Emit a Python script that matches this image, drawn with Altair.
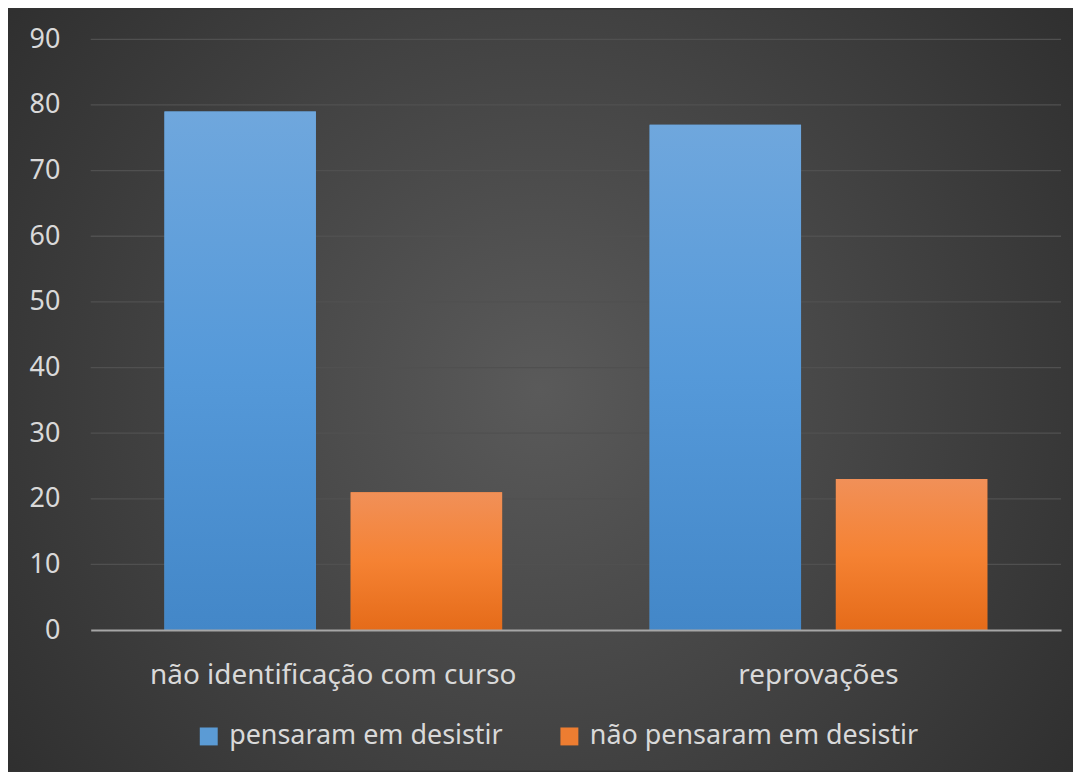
import altair as alt
import pandas as pd

categories = ["não identificação com curso", "reprovações"]
series = ["pensaram em desistir", "não pensaram em desistir"]
pensaram = [79, 77]
nao_pensaram = [21, 23]
y_ticks = [0, 10, 20, 30, 40, 50, 60, 70, 80, 90]

rows = []
for i, c in enumerate(categories):
    rows.append({"categoria": c, "serie": series[0], "valor": pensaram[i]})
    rows.append({"categoria": c, "serie": series[1], "valor": nao_pensaram[i]})
df = pd.DataFrame(rows)
grid_df = pd.DataFrame({"valor": y_ticks[1:]})

W, H = 974, 593
PL, PT, PR, PB = 83, 30, 12, 141
FONT = "Noto Sans"

blue_grad = alt.LinearGradient(
    gradient="linear", x1=0, y1=0, x2=0, y2=1,
    stops=[alt.GradientStop(offset=0, color="#6FA7DD"),
           alt.GradientStop(offset=0.5, color="#5599D9"),
           alt.GradientStop(offset=1, color="#4387C8")])
orange_grad = alt.LinearGradient(
    gradient="linear", x1=0, y1=0, x2=0, y2=1,
    stops=[alt.GradientStop(offset=0, color="#F19058"),
           alt.GradientStop(offset=0.5, color="#F58233"),
           alt.GradientStop(offset=1, color="#E56B19")])
bg_grad = alt.RadialGradient(
    gradient="radial", x1=0.5, y1=0.5, r1=0, x2=0.5, y2=0.5, r2=0.75,
    stops=[alt.GradientStop(offset=0, color="#5A5A5A"),
           alt.GradientStop(offset=1, color="#262626")])

background = alt.Chart(alt.Data(values=[{}])).mark_rect(fill=bg_grad).encode(
    x=alt.value(-PL), x2=alt.value(W + PR),
    y=alt.value(-PT), y2=alt.value(H + PB),
)

x_enc = alt.X("categoria:N", sort=categories, title=None,
              scale=alt.Scale(domain=categories, paddingInner=0, paddingOuter=0),
              axis=alt.Axis(labelAngle=0, labelFontSize=28, labelColor="#D9D9D9",
                            labelFont=FONT, labelPadding=32, ticks=False,
                            domainColor="#A6A6A6", domainWidth=2, grid=False,
                            labelLimit=0, zindex=1))
xo_enc = alt.XOffset("serie:N", sort=series,
                     scale=alt.Scale(domain=series, paddingInner=0.187, paddingOuter=0.396))
y_scale = alt.Scale(domain=[0, 90], nice=False)
y_enc = alt.Y("valor:Q", title=None, scale=y_scale,
              axis=alt.Axis(values=y_ticks, labelFontSize=27, labelColor="#D9D9D9",
                            labelFont=FONT, labelPadding=31, ticks=False, domain=False,
                            grid=False, zindex=1))

gridlines = alt.Chart(grid_df).mark_rule(color="#505050", strokeWidth=1.3).encode(
    y=y_enc,
    x=alt.value(0), x2=alt.value(W),
)

base = alt.Chart(df).mark_bar().encode(
    x=x_enc, xOffset=xo_enc, y=y_enc,
    color=alt.Color("serie:N", sort=series, title=None,
                    scale=alt.Scale(domain=series, range=["#5B9BD5", "#ED7D31"]),
                    legend=alt.Legend(orient="none", legendX=105, legendY=686,
                                      direction="horizontal", symbolType="square",
                                      symbolSize=324, symbolStrokeWidth=0,
                                      labelFontSize=27, labelColor="#D9D9D9",
                                      labelFont=FONT, labelOffset=7,
                                      columnPadding=53, labelLimit=0)),
)

blue = alt.Chart(df).mark_bar(fill=blue_grad).encode(
    x=x_enc, xOffset=xo_enc, y=y_enc
).transform_filter(alt.datum.serie == series[0])

orange = alt.Chart(df).mark_bar(fill=orange_grad).encode(
    x=x_enc, xOffset=xo_enc, y=y_enc
).transform_filter(alt.datum.serie == series[1])

chart = alt.layer(background, gridlines, base, blue, orange).properties(
    width=W, height=H,
    autosize=alt.AutoSizeParams(type="none"),
    padding={"left": PL, "top": PT, "right": PR, "bottom": PB},
    background="#333333",
).configure_view(stroke=None)

chart.save("out.html", embed_options={"renderer": "svg", "actions": False})
